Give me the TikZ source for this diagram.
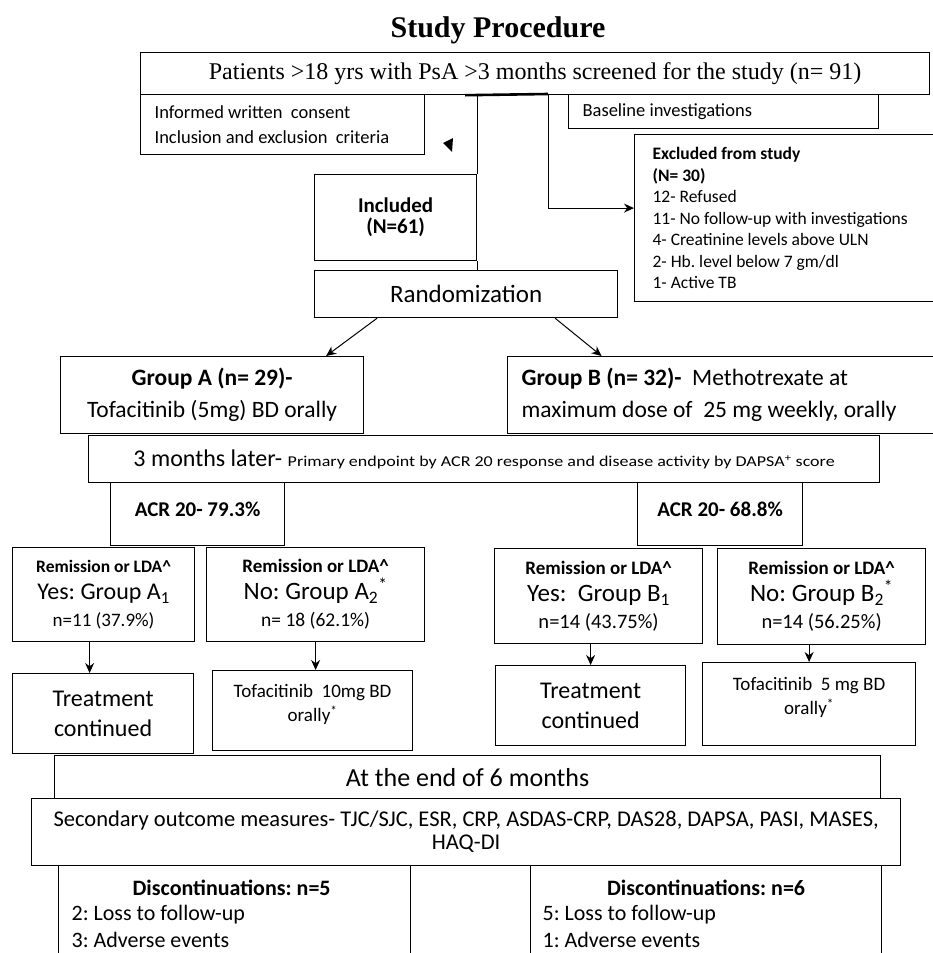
\documentclass[tikz,border=0pt]{standalone}
\usepackage{fontspec}
\setmainfont{Carlito}
\newfontfamily\timesfont{Liberation Serif}
\usetikzlibrary{positioning, arrows.meta, calc}
\newcommand{\fs}[2]{\fontsize{#1}{#2}\selectfont}
\frenchspacing

\begin{document}
\begin{tikzpicture}[x=1pt, y=-1pt, line width=1.2pt,
    box/.style={draw, anchor=north west, inner sep=0pt, align=flush center},
    lbox/.style={box, align=flush left},
    txt/.style={inner sep=0pt, anchor=base west},
    arr/.style={line width=1pt, -{Stealth[length=10pt, width=9pt]}}]
    \clip (0,0) rectangle (933,953);
    \node[inner sep=0pt, anchor=base, font=\timesfont\bfseries\fs{30}{34}] (title) at (498,37) {Study Procedure};
    \node[box, minimum width=789pt, minimum height=42pt, font=\timesfont\fs{24}{28}] (screen) at (140,52) {Patients >18 yrs with PsA >3 months screened for the study (n= 91)};
    \node[lbox, minimum width=283pt, minimum height=60pt, text width=256pt, inner xsep=14pt, font=\fs{18.5}{25}] (consent) at (140,94) {Informed written\ \ consent\\Inclusion and exclusion\ \ criteria};
    \node[lbox, minimum width=310pt, minimum height=34pt, text width=282pt, inner xsep=14pt, font=\fs{18.5}{20}] (baseline) at (568,94) {Baseline investigations};
    \node[box, minimum width=162pt, minimum height=86pt, font=\bfseries\fs{21}{21}] (incl) at (314,174) {Included\\(N=61)};
    \node[lbox, minimum width=298pt, minimum height=167pt, text width=280pt, inner xsep=18pt, font=\fs{17.5}{21.5}] (excl) at (634,134) {\textbf{Excluded from study}\\\textbf{(N= 30)}\\12- Refused\\11- No follow-up with investigations\\4- Creatinine levels above ULN\\2- Hb. level below 7 gm/dl\\1- Active TB};
    \node[box, minimum width=303pt, minimum height=47pt, font=\fs{25}{28}] (rand) at (314,270) {Randomization};
    \node[box, minimum width=303pt, minimum height=77pt, font=\fs{23.5}{32}] (grpA) at (60,356) {\textbf{Group A (n= 29)-}\\Tofacitinib (5mg) BD orally};
    \node[lbox, minimum width=425pt, minimum height=77pt, text width=400pt, inner xsep=14pt, font=\fs{23.5}{32}] (grpB) at (507,356) {\textbf{Group B (n= 32)-}\ \ Methotrexate at\\maximum dose of\ \ 25 mg weekly, orally};
    \node[box, minimum width=791pt, minimum height=47pt] (later) at (88,435) {\fs{24}{26}3 months later- \scalebox{1.2}[1]{\fs{15}{16}Primary endpoint by ACR 20 response and disease activity by DAPSA\textsuperscript{+} score}};
    \node[box, minimum width=174pt, minimum height=63pt, font=\bfseries\fs{21}{22}] (acrA) at (110,482) {ACR 20- 79.3\%\\[-12pt]};
    \node[box, minimum width=165pt, minimum height=63pt, font=\bfseries\fs{21}{22}] (acrB) at (637,482) {ACR 20- 68.8\%\\[-12pt]};
    \node[box, minimum width=182pt, minimum height=94pt, font=\fs{19}{27}] (remA1) at (12,547) {\textbf{\fs{17.5}{27}Remission or LDA\textasciicircum}\\{\fs{24}{27}Yes: Group A\textsubscript{1}}\\n=11 (37.9\%)};
    \node[box, minimum width=218pt, minimum height=94pt, font=\fs{19.5}{27}] (remA2) at (206,547) {\textbf{\fs{19}{27}Remission or LDA\textasciicircum}\\{\fs{25}{27}No: Group A\textsubscript{2}\textsuperscript{*}}\\n= 18 (62.1\%)};
    \node[box, minimum width=208pt, minimum height=95pt, font=\fs{20.5}{27}] (remB1) at (494,548) {\textbf{\fs{19}{27}Remission or LDA\textasciicircum}\\{\fs{25}{27}Yes:\ \ Group B\textsubscript{1}}\\n=14 (43.75\%)};
    \node[box, minimum width=208pt, minimum height=96pt, font=\fs{20.5}{27}] (remB2) at (717,548) {\textbf{\fs{19}{27}Remission or LDA\textasciicircum}\\{\fs{25}{27}No: Group B\textsubscript{2}\textsuperscript{*}}\\n=14 (56.25\%)};
    \node[box, minimum width=181pt, minimum height=80pt, font=\fs{24}{30}] (treatA) at (12,673) {Treatment\\continued};
    \node[box, minimum width=200pt, minimum height=80pt] (tofaA) at (212,670) {};
    \node[inner sep=0pt, anchor=north, align=center, font=\fs{19}{24}] (tofaAt) at ($(tofaA.north)+(0,14)$) {Tofacitinib\ \ 10mg BD\\orally\textsuperscript{*}};
    \node[box, minimum width=190pt, minimum height=80pt, font=\fs{24}{30}] (treatB) at (495,665) {Treatment\\continued};
    \node[box, minimum width=213pt, minimum height=83pt] (tofaB) at (702,662) {};
    \node[inner sep=0pt, anchor=north, align=center, font=\fs{19}{24}] (tofaBt) at ($(tofaB.north)+(0,15)$) {Tofacitinib\ \ 5 mg BD\\orally\textsuperscript{*}};
    \node[box, minimum width=826pt, minimum height=43pt, font=\fs{26}{28}] (six) at (54,755) {At the end of 6 months};
    \node[box, minimum width=869pt, minimum height=67pt, text width=860pt, font=\fs{22.5}{23}] (second) at (31,798) {Secondary outcome measures- TJC/SJC, ESR, CRP, ASDAS-CRP, DAS28, DAPSA, PASI, MASES,\\HAQ-DI};
    \node[box, minimum width=352pt, minimum height=130pt] (discA) at (58,865) {};
    \node[box, minimum width=351pt, minimum height=130pt] (discB) at (530,865) {};
    \node[inner sep=0pt, anchor=base, font=\bfseries\fs{22}{24}] (discAt) at ($(discA.north)+(-3,30)$) {Discontinuations: n=5};
    \node[txt, font=\fs{22}{24}] (discA1) at ($(discA.north west)+(13,55)$) {2: Loss to follow-up};
    \node[txt, font=\fs{22}{24}] (discA2) at ($(discA.north west)+(13,82)$) {3: Adverse events};
    \node[inner sep=0pt, anchor=base, font=\bfseries\fs{22}{24}] (discBt) at ($(discB.north)+(0,30)$) {Discontinuations: n=6};
    \node[txt, font=\fs{22}{24}] (discB1) at ($(discB.north west)+(12,55)$) {5: Loss to follow-up};
    \node[txt, font=\fs{22}{24}] (discB2) at ($(discB.north west)+(12,82)$) {1: Adverse events};
    \coordinate (split) at (548,94);
    \draw (incl.north east |- screen.south) -- (incl.north east);
    \draw (incl.south east) -- (incl.south east |- rand.north);
    \draw[line width=2.6pt] ($(incl.north east |- screen.south)+(-12,0)$) -- (split);
    \draw[arr] (split) |- ($(excl.west)+(0,-10)$);
    \fill (443,143) -- (453,138) -- (452,152) -- cycle;
    \draw[arr] ($(rand.south)+(-89,0)$) -- ($(grpA.north)+(114,0)$);
    \draw[arr] ($(rand.south)+(89,0)$) -- ($(grpB.north)+(-120,0)$);
    \coordinate (a1) at ($(remA1.south)+(-14,0)$);
    \draw[arr] (a1) -- (a1 |- treatA.north);
    \draw[arr] (remA2.south) -- (remA2.south |- tofaA.north);
    \draw[arr] (treatB.north |- remB1.south) -- (treatB.north);
    \draw[arr] (tofaB.north |- remB2.south) -- (tofaB.north);
\end{tikzpicture}
\end{document}
